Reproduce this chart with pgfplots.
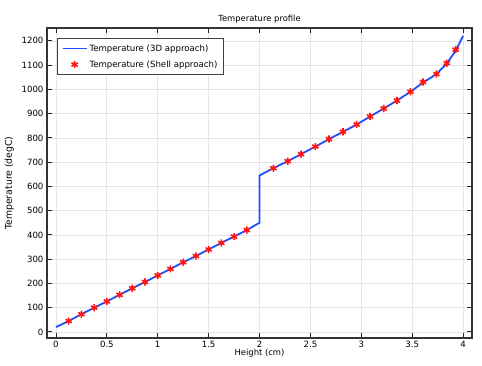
\documentclass[border=0pt]{standalone}
\usepackage{pgfplots}
\pgfplotsset{compat=1.18}
\usepackage{fontspec}
\setmainfont{DejaVu Sans}
\definecolor{lblue}{RGB}{30,80,255}
\definecolor{mred}{RGB}{255,20,20}
\begin{document}
\begin{tikzpicture}[x=1pt,y=1pt]
\begin{axis}[
  at={(0,0)}, anchor=south west,
  scale only axis, width=425pt, height=310pt,
  xmin=-0.088, xmax=4.088, ymin=-25, ymax=1253,
  xtick={0,0.5,...,4}, ytick={0,100,...,1200},
  xticklabels={0,0.5,1,1.5,2,2.5,3,3.5,4},
  /pgf/number format/1000 sep={},
  tick align=inside, major tick length=5pt,
  tick style={black!85, line width=0.9pt},
  axis line style={black!80, line width=1.2pt},
  grid=major, major grid style={black!10, line width=0.7pt},
  ticklabel style={font=\fontsize{8.6}{10}\selectfont},
  /pgf/number format/assume math mode=true,
  label style={font=\fontsize{8.4}{10}\selectfont},
  xlabel={Height (cm)}, ylabel={Temperature (degC)},
  xlabel style={yshift=6pt}, ylabel style={yshift=1pt, font=\fontsize{9.3}{10}\selectfont},
  title={Temperature profile}, title style={font=\fontsize{8.4}{10}\selectfont, yshift=-5pt},
  legend style={at={(0.024,0.968)}, anchor=north west, font=\fontsize{8.6}{10}\selectfont,
    draw=black!75, line width=1.2pt, inner xsep=4pt, inner ysep=4pt, row sep=4pt,
    cells={anchor=west}},
  legend cell align=left,
]
\addplot[lblue, line width=1.8pt, legend image post style={xscale=1.4, line width=1.8pt, lblue}] coordinates {
(0,20)(0.125,45)(0.25,73)(0.375,100)(0.5,126)(0.625,153)(0.75,180)(0.875,206)
(1,233)(1.125,260)(1.25,287)(1.375,313)(1.5,340)(1.625,367)(1.75,393)(1.875,420)(2,450)
(2,645)(2.136,675)(2.278,704)(2.408,733)(2.549,764)(2.683,795)(2.820,825)(2.955,855)
(3.086,888)(3.221,921)(3.351,954)(3.483,990)(3.607,1028)(3.738,1063)(3.840,1106)(3.928,1160)(4,1220)
};
\addlegendentry{Temperature (3D approach)}
\addplot[only marks, mark=asterisk, mark size=3.6pt, mark options={line width=1.6pt, mred}, legend image post style={xshift=3.4pt}] coordinates {
(0.125,45)(0.25,73)(0.375,100)(0.5,126)(0.625,153)(0.75,180)(0.875,206)
(1,233)(1.125,260)(1.25,287)(1.375,313)(1.5,340)(1.625,367)(1.75,393)(1.875,420)
(2.136,675)(2.278,704)(2.408,733)(2.549,764)(2.683,795)(2.820,825)(2.955,855)
(3.086,888)(3.221,921)(3.351,954)(3.483,990)(3.607,1030)(3.738,1063)(3.840,1108)(3.928,1164)
};
\addlegendentry{Temperature (Shell approach)}
\end{axis}
\pgfresetboundingbox
\path (-47,-27) rectangle (435,338);
\end{tikzpicture}
\end{document}
